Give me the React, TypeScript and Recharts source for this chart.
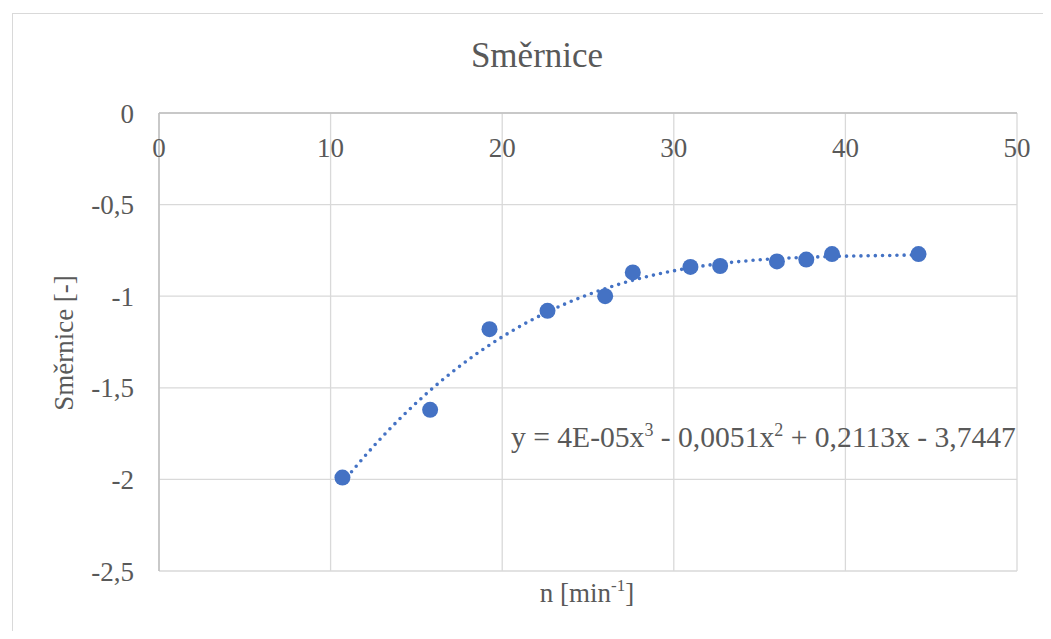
import React from 'react';
import {
  ScatterChart,
  Scatter,
  XAxis,
  YAxis,
  CartesianGrid,
} from 'recharts';

const FONT = "'Liberation Serif', 'Times New Roman', serif";
const TEXT = '#595959';
const BLUE = '#4472C4';

// measured points: n [min-1] vs. slope
const nValues = [10.69, 15.8, 19.26, 22.64, 26.0, 27.61, 30.97, 32.7, 36.01, 37.72, 39.22, 44.26];
const slopeValues = [-1.99, -1.62, -1.18, -1.08, -1.0, -0.87, -0.84, -0.835, -0.81, -0.8, -0.77, -0.77];

const xTicks = [0, 10, 20, 30, 40, 50];
const yTicks = [-2.5, -2, -1.5, -1, -0.5, 0];

const points = nValues.map((n, i) => ({ n, s: slopeValues[i] }));

// least-squares polynomial (same as the spreadsheet trendline)
function polyFit(xs: number[], ys: number[], degree: number): number[] {
  const m = degree + 1;
  const A: number[][] = Array.from({ length: m }, () => new Array(m + 1).fill(0));
  for (let k = 0; k < xs.length; k++) {
    for (let i = 0; i < m; i++) {
      for (let j = 0; j < m; j++) A[i][j] += Math.pow(xs[k], i + j);
      A[i][m] += ys[k] * Math.pow(xs[k], i);
    }
  }
  for (let c = 0; c < m; c++) {
    let p = c;
    for (let r = c + 1; r < m; r++) if (Math.abs(A[r][c]) > Math.abs(A[p][c])) p = r;
    [A[c], A[p]] = [A[p], A[c]];
    for (let r = 0; r < m; r++) {
      if (r === c) continue;
      const f = A[r][c] / A[c][c];
      for (let j = c; j <= m; j++) A[r][j] -= f * A[c][j];
    }
  }
  return A.map((row, i) => row[m] / row[i]);
}

const coeffs = polyFit(nValues, slopeValues, 3);
const xMin = Math.min(...nValues);
const xMax = Math.max(...nValues);
const trend = Array.from({ length: 150 }, (_, i) => {
  const n = xMin + ((xMax - xMin) * i) / 149;
  const s = coeffs.reduce((acc, c, p) => acc + c * Math.pow(n, p), 0);
  return { n, s };
});

const XTick = (props: any) => {
  const { x, y, payload } = props;
  return (
    <text x={x} y={y + 44} textAnchor='middle' fill={TEXT} fontSize={27} fontFamily={FONT}>
      {payload.value}
    </text>
  );
};

const Marker = (props: any) => <circle cx={props.cx} cy={props.cy} r={8} fill={BLUE} />;

export default function App() {
  return (
    <div style={{ position: 'relative', width: 1051, height: 639, margin: -8, overflow: 'hidden', background: '#fff' }}>
      <div
        style={{
          position: 'absolute',
          left: 12,
          top: 13,
          width: 1100,
          height: 700,
          borderTop: '1px solid #d9d9d9',
          borderLeft: '1px solid #d9d9d9',
        }}
      />
      <div style={{ position: 'absolute', left: 0, top: 0 }}>
        <ScatterChart width={1051} height={639} margin={{ top: 93, right: 34, bottom: 68, left: 99 }}>
          <CartesianGrid stroke='#d9d9d9' strokeWidth={1.3} />
          <XAxis
            type='number'
            dataKey='n'
            orientation='top'
            height={20}
            domain={[0, 50]}
            ticks={xTicks}
            tick={<XTick />}
            tickLine={false}
            tickSize={0}
            tickMargin={0}
            axisLine={{ stroke: '#bfbfbf', strokeWidth: 1.5 }}
          />
          <YAxis
            type='number'
            dataKey='s'
            width={60}
            domain={[-2.5, 0]}
            ticks={yTicks}
            tickFormatter={(v: number) => String(v).replace('.', ',')}
            tick={{ fill: TEXT, fontSize: 27, fontFamily: FONT }}
            tickLine={false}
            tickSize={0}
            tickMargin={25}
            axisLine={{ stroke: '#bfbfbf', strokeWidth: 1.5 }}
          />
          <Scatter
            data={trend}
            line={{ stroke: BLUE, strokeWidth: 3.6, strokeDasharray: '0 7.2', strokeLinecap: 'round' }}
            shape={() => <g />}
            isAnimationActive={false}
          />
          <Scatter data={points} shape={<Marker />} isAnimationActive={false} />
        </ScatterChart>
      </div>
      <svg
        width={1051}
        height={639}
        style={{ position: 'absolute', left: 0, top: 0, pointerEvents: 'none' }}
        fontFamily={FONT}
        fill={TEXT}
      >
        <text x={537} y={67} textAnchor='middle' fontSize={35}>
          Směrnice
        </text>
        <text x={73} y={343} textAnchor='middle' fontSize={27} transform='rotate(-90 73 343)'>
          Směrnice [-]
        </text>
        <text x={587} y={602} textAnchor='middle' fontSize={27}>
          n [min
          <tspan fontSize={17} dy={-11}>-1</tspan>
          <tspan dy={11}>]</tspan>
        </text>
        <text x={511} y={447} fontSize={29.6}>
          y = 4E-05x<tspan fontSize={18} dy={-11}>3</tspan>
          <tspan dy={11}> - 0,0051x</tspan>
          <tspan fontSize={18} dy={-11}>2</tspan>
          <tspan dy={11}> + 0,2113x - 3,7447</tspan>
        </text>
      </svg>
    </div>
  );
}
